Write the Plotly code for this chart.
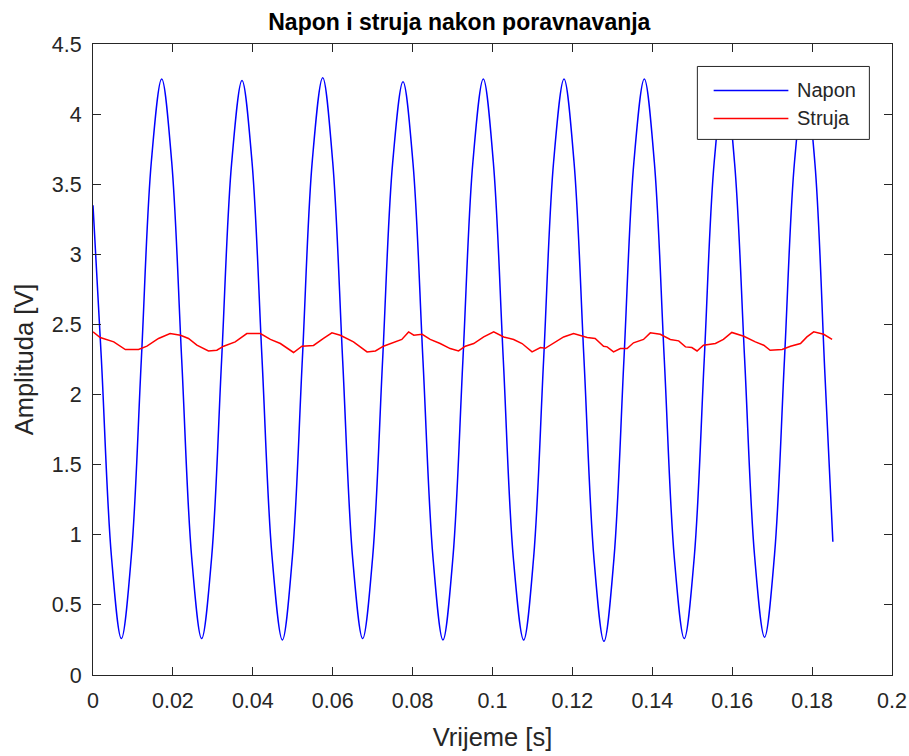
import plotly.graph_objects as go

# Rectified voltage (Napon) samples: time [s] and amplitude [V]
t_napon = [0.0000, 0.0021, 0.0046,
           0.0071, 0.0096, 0.0121, 0.0146, 0.0172, 0.0197, 0.0222, 0.0247,
           0.0272, 0.0297, 0.0322, 0.0347, 0.0373, 0.0398, 0.0423, 0.0448,
           0.0474, 0.0499, 0.0524, 0.0549, 0.0575, 0.0600, 0.0625, 0.0650,
           0.0675, 0.0700, 0.0725, 0.0750, 0.0776, 0.0801, 0.0826, 0.0851,
           0.0876, 0.0901, 0.0926, 0.0951, 0.0977, 0.1002, 0.1027, 0.1052,
           0.1078, 0.1103, 0.1128, 0.1153, 0.1179, 0.1204, 0.1229, 0.1254,
           0.1279, 0.1304, 0.1329, 0.1354, 0.1380, 0.1405, 0.1430, 0.1455,
           0.1480, 0.1505, 0.1530, 0.1555, 0.1581, 0.1606, 0.1631, 0.1656,
           0.1681, 0.1706, 0.1731, 0.1756, 0.1782, 0.1807, 0.1832, 0.1852]
v_napon = [3.35, 2.25, 0.85,
           0.26, 0.85, 2.25, 3.66, 4.25, 3.66, 2.25, 0.84,
           0.26, 0.84, 2.25, 3.65, 4.24, 3.66, 2.26, 0.85,
           0.25, 0.84, 2.25, 3.67, 4.26, 3.66, 2.24, 0.83,
           0.26, 0.84, 2.25, 3.65, 4.23, 3.65, 2.24, 0.84,
           0.25, 0.84, 2.25, 3.66, 4.25, 3.66, 2.25, 0.84,
           0.25, 0.84, 2.25, 3.66, 4.25, 3.66, 2.25, 0.83,
           0.24, 0.83, 2.25, 3.66, 4.25, 3.66, 2.25, 0.84,
           0.26, 0.84, 2.25, 3.66, 4.24, 3.65, 2.26, 0.85,
           0.27, 0.86, 2.26, 3.66, 4.24, 3.65, 2.15, 0.95]

# Current (Struja) samples
t_struja = [0.0000, 0.0018, 0.0052, 0.0081, 0.0114, 0.0135, 0.0164, 0.0193, 0.0219, 0.0239,
            0.0260, 0.0289, 0.0310, 0.0327, 0.0356, 0.0385, 0.0419, 0.0444, 0.0469, 0.0502,
            0.0523, 0.0552, 0.0577, 0.0598, 0.0619, 0.0652, 0.0686, 0.0707, 0.0727, 0.0757,
            0.0773, 0.0790, 0.0803, 0.0824, 0.0844, 0.0869, 0.0894, 0.0915, 0.0932, 0.0953,
            0.0978, 0.1003, 0.1028, 0.1053, 0.1074, 0.1099, 0.1120, 0.1132, 0.1153, 0.1178,
            0.1203, 0.1237, 0.1257, 0.1278, 0.1287, 0.1303, 0.1320, 0.1337, 0.1353, 0.1378,
            0.1395, 0.1420, 0.1445, 0.1466, 0.1483, 0.1499, 0.1512, 0.1528, 0.1558, 0.1578,
            0.1599, 0.1629, 0.1658, 0.1679, 0.1695, 0.1725, 0.1746, 0.1771, 0.1787, 0.1804,
            0.1829, 0.1850]
v_struja = [2.447, 2.407, 2.376, 2.321, 2.321, 2.345, 2.400, 2.435, 2.423, 2.400,
            2.352, 2.311, 2.316, 2.345, 2.376, 2.435, 2.435, 2.393, 2.364, 2.300,
            2.345, 2.350, 2.400, 2.440, 2.423, 2.376, 2.304, 2.311, 2.345, 2.376,
            2.393, 2.447, 2.423, 2.430, 2.393, 2.364, 2.328, 2.311, 2.345, 2.364,
            2.411, 2.447, 2.411, 2.393, 2.364, 2.304, 2.335, 2.330, 2.369, 2.411,
            2.435, 2.407, 2.400, 2.345, 2.340, 2.304, 2.328, 2.328, 2.369, 2.393,
            2.440, 2.430, 2.393, 2.383, 2.340, 2.335, 2.311, 2.352, 2.364, 2.393,
            2.443, 2.416, 2.376, 2.352, 2.316, 2.321, 2.345, 2.364, 2.411, 2.447,
            2.430, 2.393]

x_ticks = [0, 0.02, 0.04, 0.06, 0.08, 0.1, 0.12, 0.14, 0.16, 0.18, 0.2]
x_labels = ["0", "0.02", "0.04", "0.06", "0.08", "0.1", "0.12", "0.14", "0.16", "0.18", "0.2"]
y_ticks = [0, 0.5, 1, 1.5, 2, 2.5, 3, 3.5, 4, 4.5]
y_labels = ["0", "0.5", "1", "1.5", "2", "2.5", "3", "3.5", "4", "4.5"]

series_names = ["Napon", "Struja"]
series_colors = ["rgb(0,0,255)", "rgb(255,0,0)"]

FONT = "Liberation Sans, Arial, sans-serif"
AXIS_COLOR = "#262626"

fig = go.Figure()
fig.add_trace(go.Scatter(x=t_napon, y=v_napon, mode="lines", name=series_names[0],
                         showlegend=False,
                         line=dict(color=series_colors[0], width=1.5, shape="spline")))
fig.add_trace(go.Scatter(x=t_struja, y=v_struja, mode="lines", name=series_names[1],
                         showlegend=False,
                         line=dict(color=series_colors[1], width=1.5)))

axis_common = dict(showline=True, linecolor=AXIS_COLOR, linewidth=1, mirror="ticks",
                   ticks="inside", ticklen=8, tickcolor=AXIS_COLOR, tickwidth=1,
                   showgrid=False, zeroline=False, ticklabelstandoff=6, automargin=False,
                   tickfont=dict(family=FONT, size=21.5, color=AXIS_COLOR))

fig.update_xaxes(range=[0, 0.2], tickvals=x_ticks, ticktext=x_labels,
                 title=dict(text="Vrijeme [s]", font=dict(family=FONT, size=25.5, color=AXIS_COLOR),
                            standoff=16),
                 **axis_common)
fig.update_yaxes(range=[0, 4.5], tickvals=y_ticks, ticktext=y_labels,
                 title=dict(text="Amplituda [V]", font=dict(family=FONT, size=25.5, color=AXIS_COLOR),
                            standoff=10),
                 **axis_common)

# Boxed legend in the upper-right corner of the axes
legend_box = dict(x0=0.7564, x1=0.9717, y0=0.8488, y1=0.9644)
legend_rows = [0.9264, 0.8820]
shapes = [dict(type="rect", xref="paper", yref="paper", **legend_box,
               line=dict(color=AXIS_COLOR, width=1), fillcolor="white", layer="above")]
annotations = []
for name, color, yrow in zip(series_names, series_colors, legend_rows):
    shapes.append(dict(type="line", xref="paper", yref="paper", x0=0.7768, x1=0.8703,
                       y0=yrow, y1=yrow, line=dict(color=color, width=1.5), layer="above"))
    annotations.append(dict(text=name, xref="paper", yref="paper", x=0.8785, y=yrow,
                            xanchor="left", yanchor="middle", showarrow=False,
                            font=dict(family=FONT, size=20, color=AXIS_COLOR)))

fig.update_layout(
    width=909, height=756,
    margin=dict(l=93, r=17, t=44, b=81),
    paper_bgcolor="white", plot_bgcolor="white",
    title=dict(text="<b>Napon i struja nakon poravnavanja</b>",
               font=dict(family=FONT, size=23, color="#000000"),
               xref="paper", x=0.4585, xanchor="center", yref="container", y=0.971,
               yanchor="middle"),
    shapes=shapes,
    annotations=annotations,
    showlegend=False,
)

fig.write_html("out.html")
